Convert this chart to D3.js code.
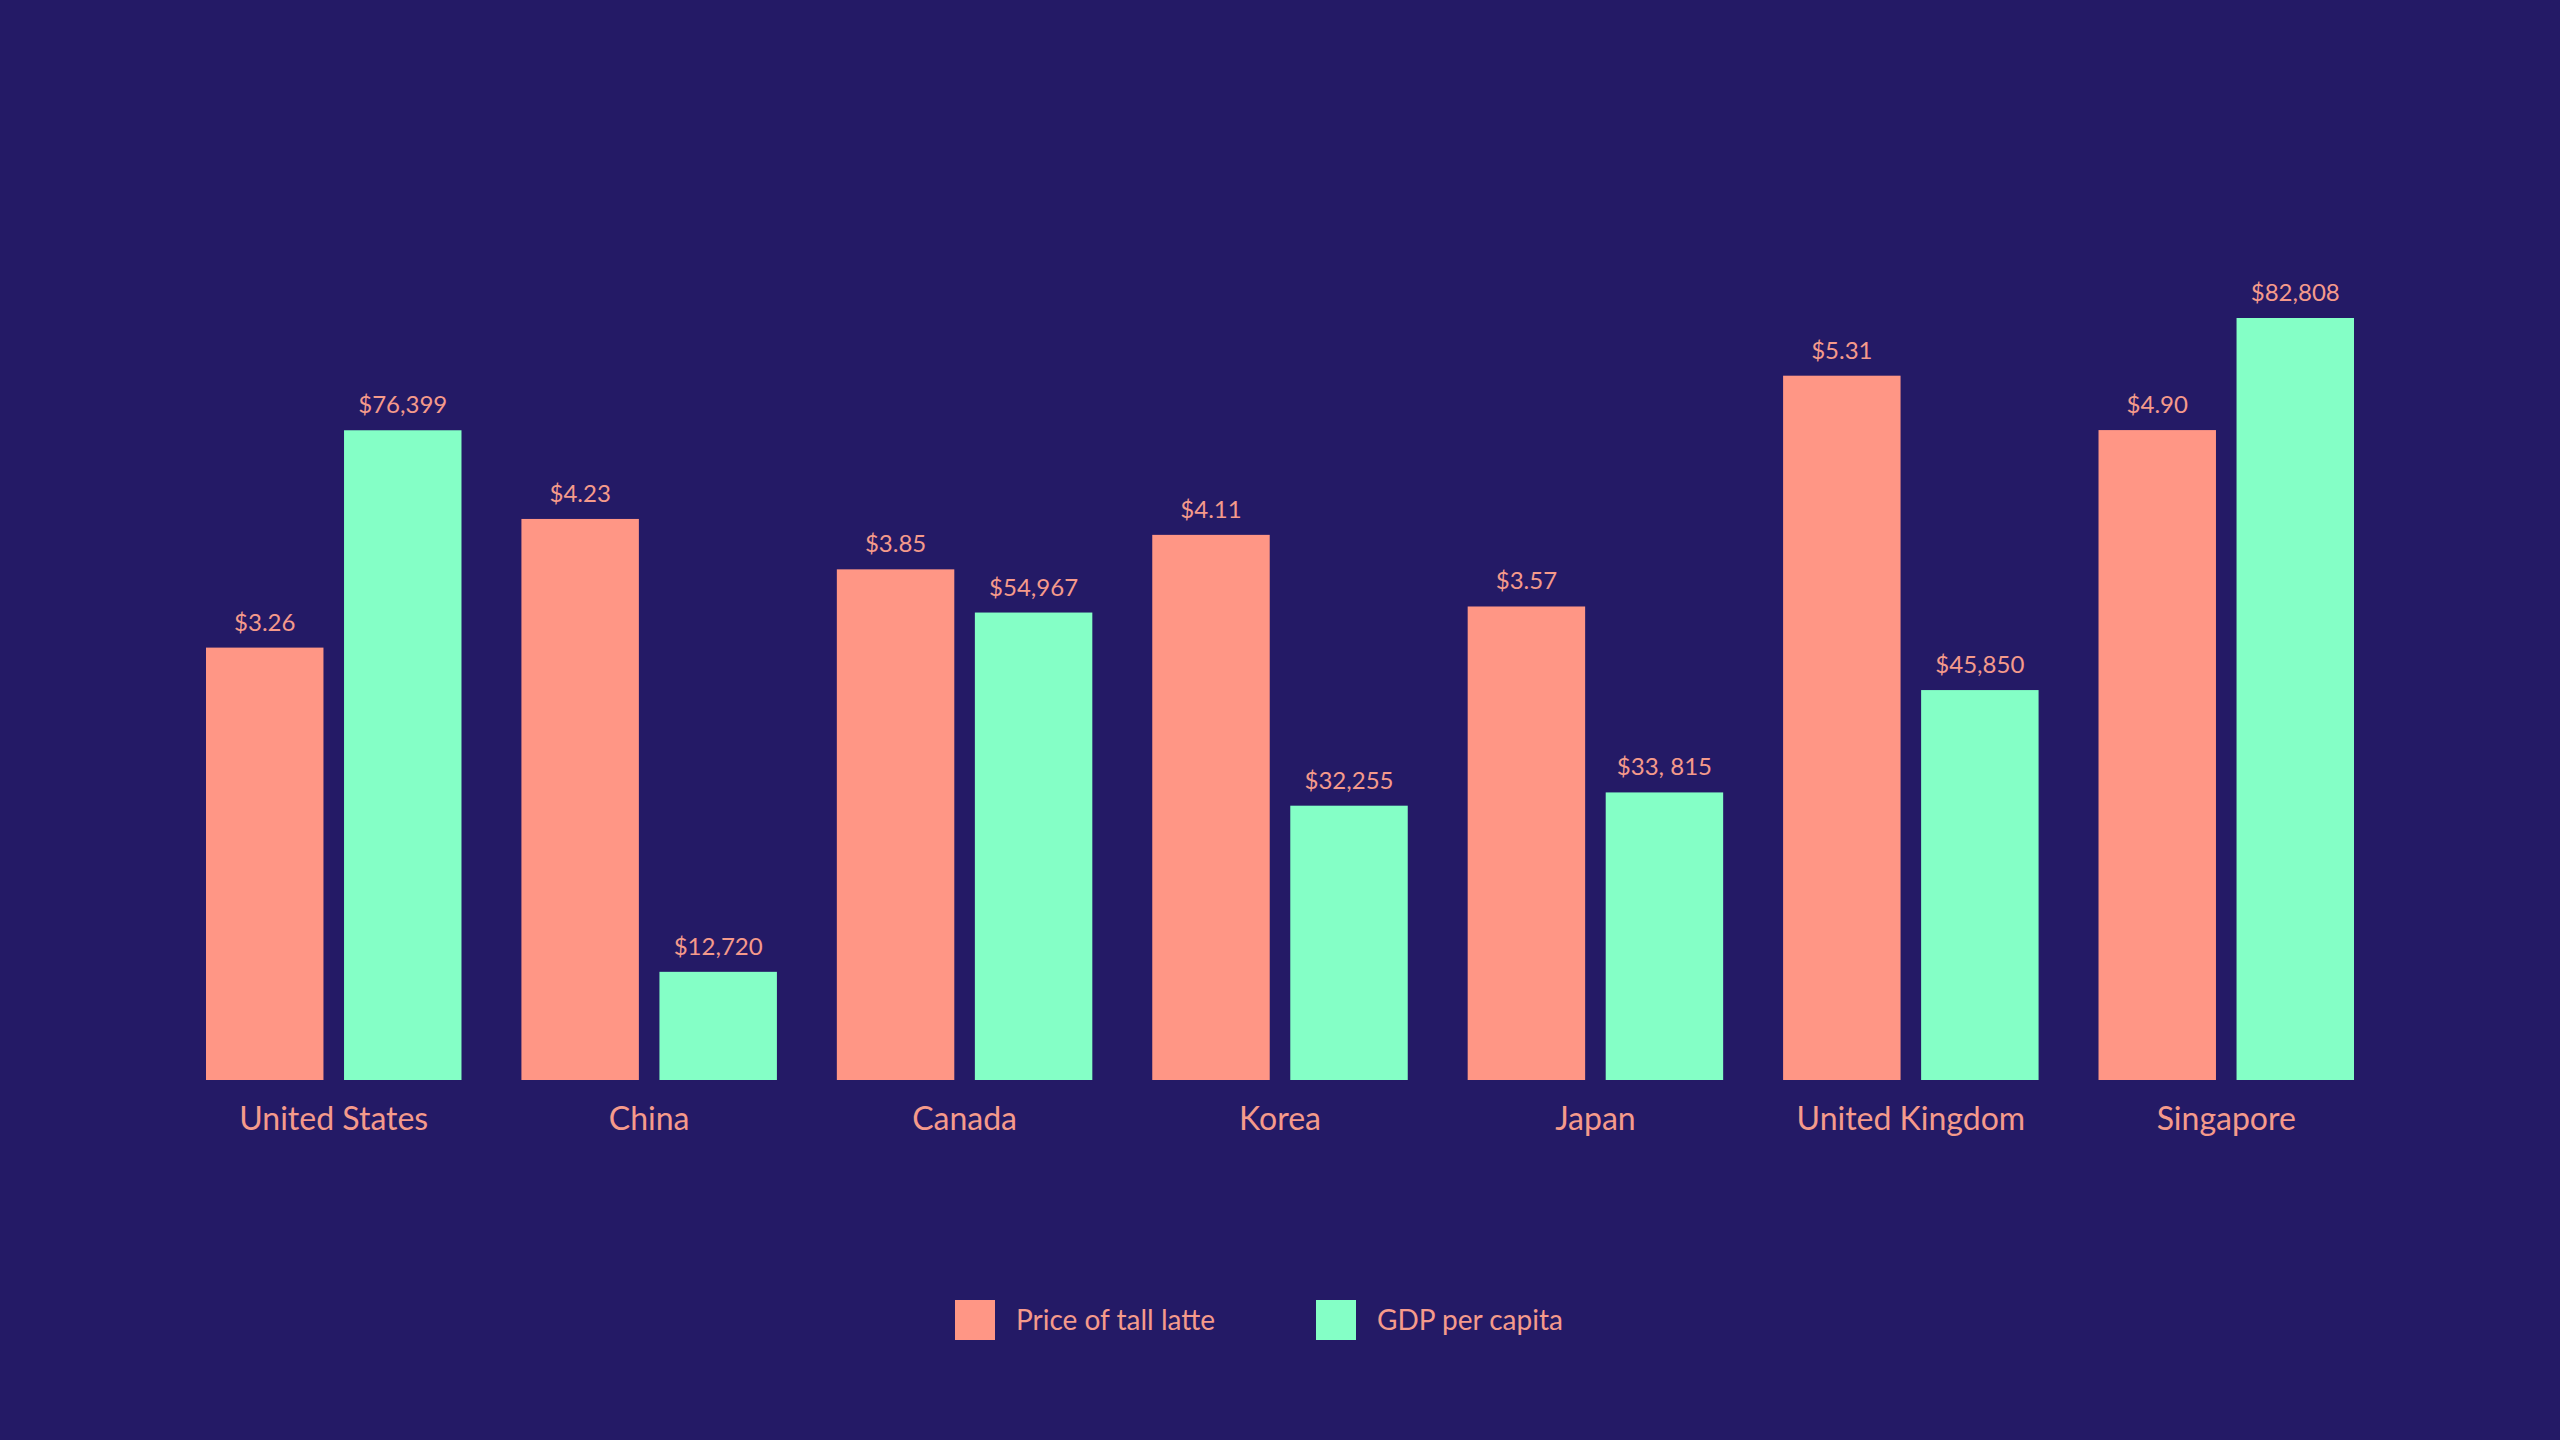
<!DOCTYPE html>
<html>
<head>
<meta charset="utf-8">
<script src="https://cdn.jsdelivr.net/npm/d3@7/dist/d3.min.js"></script>
<style>
  html, body { margin: 0; padding: 0; background: #241a66; }
  svg { display: block; }
  text { font-family: "Lato", "Inter", sans-serif; }
</style>
</head>
<body>
<svg id="chart" width="2560" height="1440"></svg>
<script>
const categories = ["United States", "China", "Canada", "Korea", "Japan", "United Kingdom", "Singapore"];
const seriesNames = ["Price of tall latte", "GDP per capita"];
const lattePrice = [3.26, 4.23, 3.85, 4.11, 3.57, 5.31, 4.90];
const latteLabels = ["$3.26", "$4.23", "$3.85", "$4.11", "$3.57", "$5.31", "$4.90"];
const gdpPerCapita = [76399, 12720, 54967, 32255, 33815, 45850, 89600];
const gdpLabels = ["$76,399", "$12,720", "$54,967", "$32,255", "$33, 815", "$45,850", "$82,808"];

(function () {
const colors = { bg: "#241a66", latte: "#ff9685", gdp: "#84ffc6", text: "#f59a8b" };

const svg = d3.select("#chart");
svg.append("rect").attr("width", 2560).attr("height", 1440).attr("fill", colors.bg);

const plotLeft = 206, plotRight = 2354, plotBottom = 1080, plotTop = 318;

const x0 = d3.scaleBand().domain(categories).range([plotLeft, plotRight]).paddingInner(0.19).paddingOuter(0);
const x1 = d3.scaleBand().domain(["latte", "gdp"]).range([0, x0.bandwidth()]).paddingInner(0.149).paddingOuter(0);
const yLatte = d3.scaleLinear().domain([0, 5.745]).range([plotBottom, plotTop]);
const yGdp = d3.scaleLinear().domain([0, 89600]).range([plotBottom, plotTop]);

const rows = categories.map((c, i) => ({
  cat: c,
  bars: [
    { key: "latte", v: lattePrice[i], label: latteLabels[i], y: yLatte, color: colors.latte },
    { key: "gdp", v: gdpPerCapita[i], label: gdpLabels[i], y: yGdp, color: colors.gdp }
  ]
}));

const g = svg.append("g");
const groups = g.selectAll("g.grp").data(rows).join("g")
  .attr("class", "grp")
  .attr("transform", d => `translate(${x0(d.cat)},0)`);

groups.selectAll("rect").data(d => d.bars).join("rect")
  .attr("x", d => x1(d.key))
  .attr("width", x1.bandwidth())
  .attr("y", d => d.y(d.v))
  .attr("height", d => plotBottom - d.y(d.v))
  .attr("fill", d => d.color);

groups.selectAll("text.val").data(d => d.bars).join("text")
  .attr("class", "val")
  .attr("x", d => x1(d.key) + x1.bandwidth() / 2)
  .attr("y", d => d.y(d.v) - 17)
  .attr("text-anchor", "middle")
  .attr("font-size", 24)
  .attr("fill", colors.text)
  .text(d => d.label);

// category axis
const xAxis = d3.axisBottom(x0).tickSize(0).tickPadding(0);
const axG = svg.append("g").attr("transform", `translate(0,${plotBottom})`).call(xAxis);
axG.select(".domain").remove();
axG.selectAll("text")
  .attr("y", 50)
  .attr("dy", 0)
  .attr("font-size", 32)
  .attr("font-family", "Lato, Inter, sans-serif")
  .attr("fill", colors.text);

// legend
const legendItems = [
  { name: seriesNames[0], color: colors.latte, x: 955 },
  { name: seriesNames[1], color: colors.gdp, x: 1316 }
];
const lg = svg.append("g");
const li = lg.selectAll("g").data(legendItems).join("g")
  .attr("transform", d => `translate(${d.x},1300)`);
li.append("rect").attr("width", 40).attr("height", 40).attr("fill", d => d.color);
li.append("text").attr("x", 61).attr("y", 30).attr("font-size", 28)
  .attr("fill", colors.text).text(d => d.name);
})();
</script>
</body>
</html>
